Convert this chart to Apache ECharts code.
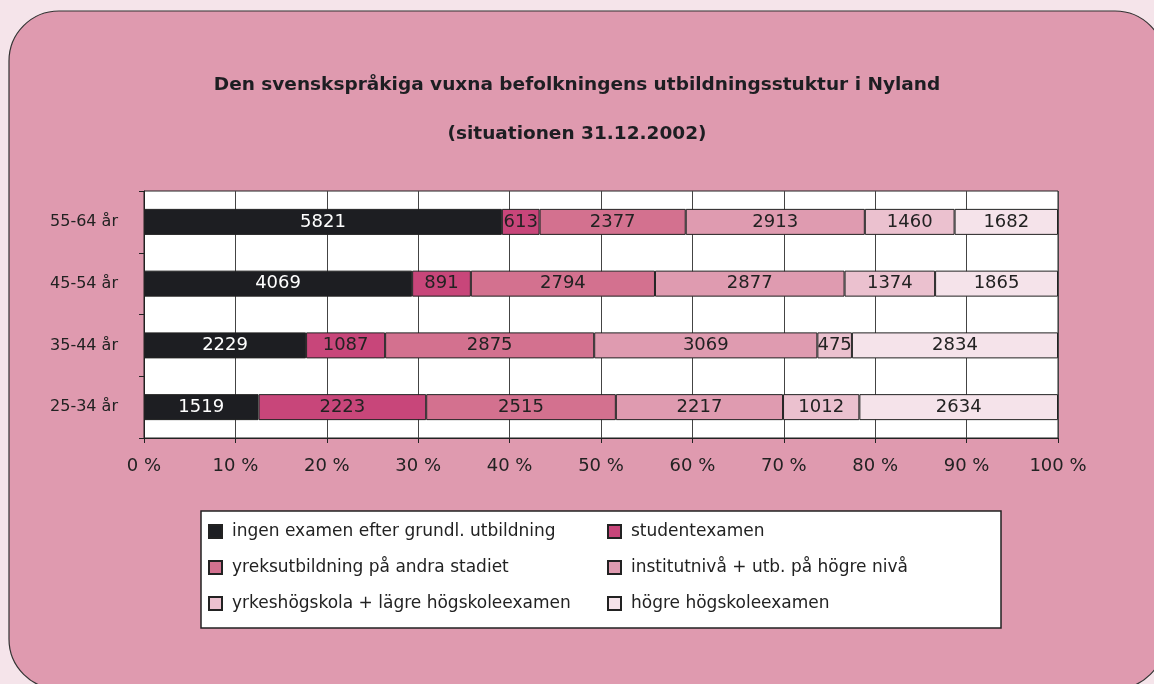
<!DOCTYPE html>
<html>
<head>
<meta charset="utf-8">
<script src="https://cdn.jsdelivr.net/npm/echarts@6/dist/echarts.min.js"></script>
<style>
  html, body { margin: 0; padding: 0; background: #f5e4ea; }
  #main { width: 1154px; height: 684px; }
</style>
</head>
<body>
<div id="main"></div>
<script>
var categories = ['25-34 år', '35-44 år', '45-54 år', '55-64 år'];
var seriesNames = [
  'ingen examen efter grundl. utbildning',
  'studentexamen',
  'yreksutbildning på andra stadiet',
  'institutnivå + utb. på högre nivå',
  'yrkeshögskola + lägre högskoleexamen',
  'högre högskoleexamen'
];
var ingen = [1519, 2229, 4069, 5821];
var student = [2223, 1087, 891, 613];
var yrkes = [2515, 2875, 2794, 2377];
var institut = [2217, 3069, 2877, 2913];
var yrkeshogskola = [1012, 475, 1374, 1460];
var hogre = [2634, 2834, 1865, 1682];
var xTicks = [0, 10, 20, 30, 40, 50, 60, 70, 80, 90, 100];

var colors = ['#1d1e22', '#c8467a', '#d3718f', '#df9bb0', '#ebc1cf', '#f5e3ea'];
var values = [ingen, student, yrkes, institut, yrkeshogskola, hogre];

// totals per age group, for the 100 % stack
var totals = categories.map(function (c, i) {
  var s = 0;
  values.forEach(function (v) { s += v[i]; });
  return s;
});

var chart = echarts.init(document.getElementById('main'));
var font = '"DejaVu Sans", sans-serif';

var series = values.map(function (v, k) {
  return {
    name: seriesNames[k],
    type: 'bar',
    stack: 'all',
    barWidth: 26,
    data: v.map(function (x, i) { return { value: x / totals[i] * 100, raw: x }; }),
    itemStyle: { color: colors[k], borderColor: '#222', borderWidth: 1 },
    label: {
      show: true,
      position: 'inside',
      fontFamily: font,
      fontSize: 18,
      color: k === 0 ? '#ffffff' : '#222',
      formatter: function (p) { return p.data.raw; }
    },
    emphasis: { disabled: true }
  };
});

var legendText = { fontFamily: font, fontSize: 17, color: '#222', padding: [0, 0, 0, 5] };

var option = {
  backgroundColor: '#f5e4ea',
  animation: false,
  graphic: [
    {
      type: 'rect', z: -10,
      shape: { x: 9, y: 11, width: 1156, height: 678, r: 50 },
      style: { fill: '#df9aaf', stroke: '#333', lineWidth: 1.2 }
    },
    {
      type: 'rect', z: -5,
      shape: { x: 201, y: 511, width: 800, height: 117 },
      style: { fill: '#ffffff', stroke: '#222', lineWidth: 1.5 }
    }
  ],
  title: [
    {
      text: 'Den svenskspråkiga vuxna befolkningens utbildningsstuktur i Nyland',
      left: 'center', top: 71,
      textStyle: { fontFamily: font, fontSize: 18.5, fontWeight: 'bold', color: '#1d1e22' }
    },
    {
      text: '(situationen 31.12.2002)',
      left: 'center', top: 120,
      textStyle: { fontFamily: font, fontSize: 18.5, fontWeight: 'bold', color: '#1d1e22' }
    }
  ],
  legend: [
    {
      data: [seriesNames[0], seriesNames[2], seriesNames[4]],
      orient: 'vertical', left: 203, top: 518,
      itemWidth: 13, itemHeight: 13, itemGap: 19, icon: 'rect',
      textStyle: legendText,
      selectedMode: false
    },
    {
      data: [seriesNames[1], seriesNames[3], seriesNames[5]],
      orient: 'vertical', left: 602, top: 518,
      itemWidth: 13, itemHeight: 13, itemGap: 19, icon: 'rect',
      textStyle: legendText,
      selectedMode: false
    }
  ],
  grid: {
    left: 144, right: 96, top: 191, bottom: 246,
    show: true, backgroundColor: '#ffffff', borderColor: '#222', borderWidth: 1
  },
  xAxis: {
    type: 'value', min: 0, max: 100, interval: 10,
    axisLine: { show: true, lineStyle: { color: '#222', width: 1 } },
    axisTick: { show: true, length: 5, lineStyle: { color: '#222' } },
    axisLabel: {
      fontFamily: font, fontSize: 18, color: '#222', margin: 19,
      formatter: function (v) { return xTicks.indexOf(v) >= 0 ? v + ' %' : ''; }
    },
    splitLine: { show: true, lineStyle: { color: '#444', width: 1 } }
  },
  yAxis: {
    type: 'category', data: categories,
    axisLine: { show: true, lineStyle: { color: '#222', width: 1 } },
    axisTick: { show: true, length: 5, lineStyle: { color: '#222' } },
    axisLabel: { fontFamily: font, fontSize: 16, color: '#222', margin: 26 },
    splitLine: { show: false }
  },
  series: series
};
option && chart.setOption(option);
</script>
</body>
</html>
